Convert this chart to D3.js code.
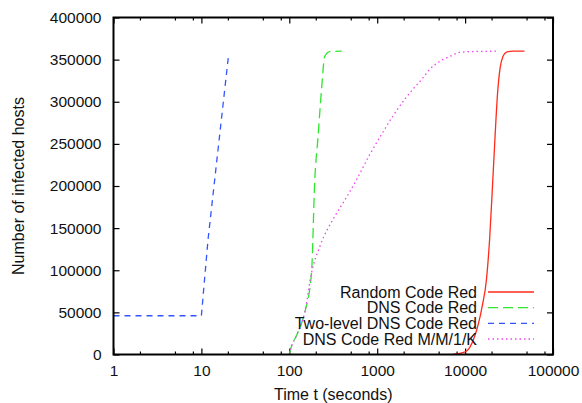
<!DOCTYPE html>
<html>
<head>
<meta charset="utf-8">
<script src="https://cdn.jsdelivr.net/npm/d3@7"></script>
<style>
  body { margin: 0; background: #fff; }
  svg text { font-family: "Liberation Sans", Arial, Helvetica, sans-serif; fill: #111; }
</style>
</head>
<body>
<svg id="chart" width="582" height="403"></svg>
<script>
// values (time in seconds, infected hosts)
const xMajorTicks = [1, 10, 100, 1000, 10000, 100000];
const yTicks = [0, 50000, 100000, 150000, 200000, 250000, 300000, 350000, 400000];

const randomTimes = [7200, 10000, 12800, 15500, 17500, 19000, 20500, 22000, 23400, 25000, 27000, 29600, 35000, 47400];
const randomHosts = [0, 3000, 21000, 55000, 89000, 136500, 200000, 262000, 310000, 340000, 354000, 359000, 360000, 360000];

const dnsTimes = [100, 101, 125, 150, 179, 195, 211, 234, 253, 288, 395];
const dnsHosts = [0, 2000, 26000, 50000, 97000, 208000, 255000, 318000, 354000, 359600, 360000];

const twoLevelTimes = [1, 10, 11.9, 20.3];
const twoLevelHosts = [46000, 46000, 136500, 354000];

const mm1kTimes = [100, 101, 125, 150, 179, 222, 329, 450, 600, 800, 1117, 1500, 2050, 2530, 3200, 3950, 5130, 6670, 8670, 12200, 23400];
const mm1kHosts = [0, 2000, 26000, 50000, 97000, 128000, 164000, 187000, 210000, 235000, 261000, 282500, 302700, 314500, 326400, 338300, 347800, 353700, 358500, 359600, 360000];

const seriesNames = ['Random Code Red', 'DNS Code Red', 'Two-level DNS Code Red', 'DNS Code Red M/M/1/K'];
const seriesColors = ['#ff2a1a', '#2ee62e', '#3355ff', '#ee44ee'];
const seriesDashes = [null, '10,5', '6,5', '1.5,3'];
const seriesCurves = [d3.curveMonotoneX, d3.curveMonotoneX, d3.curveLinear, d3.curveMonotoneX];

const svg = d3.select('#chart');
const plotLeft = 113.5, plotRight = 553, plotTop = 17.5, plotBottom = 354.5;

const x = d3.scaleLog().domain([1, 100000]).range([plotLeft, plotRight]);
const y = d3.scaleLinear().domain([0, 400000]).range([plotBottom, plotTop]);

// minor ticks on the log axis
const xMinorTicks = [];
xMajorTicks.slice(0, -1).forEach(function(d) {
  [2, 5, 8].forEach(function(m) { xMinorTicks.push(d * m); });
});

function styleAxis(g) {
  g.select('.domain').remove();
  g.selectAll('.tick line').attr('stroke', '#000').attr('stroke-width', 1.2);
  g.selectAll('.tick text')
    .style('font-family', '"Liberation Sans", Arial, sans-serif')
    .style('font-size', '15.5px')
    .attr('fill', '#111')
    ;
}

svg.append('g')
  .attr('transform', `translate(0,${plotBottom})`)
  .call(d3.axisBottom(x).tickValues(xMajorTicks).tickFormat(d3.format('d')).tickSize(-6).tickPadding(10))
  .call(styleAxis)
  ;

svg.append('g')
  .attr('transform', `translate(0,${plotBottom})`)
  .call(d3.axisBottom(x).tickValues(xMinorTicks).tickFormat('').tickSize(-3))
  .call(styleAxis)
  ;

svg.append('g')
  .attr('transform', `translate(0,${plotTop})`)
  .call(d3.axisTop(x).tickValues(xMajorTicks).tickFormat('').tickSize(-6))
  .call(styleAxis)
  ;

svg.append('g')
  .attr('transform', `translate(0,${plotTop})`)
  .call(d3.axisTop(x).tickValues(xMinorTicks).tickFormat('').tickSize(-3))
  .call(styleAxis)
  ;

svg.append('g')
  .attr('transform', `translate(${plotLeft},0)`)
  .call(d3.axisLeft(y).tickValues(yTicks).tickFormat(d3.format('d')).tickSize(-6).tickPadding(12))
  .call(styleAxis)
  ;

svg.append('g')
  .attr('transform', `translate(${plotRight},0)`)
  .call(d3.axisRight(y).tickValues(yTicks).tickFormat('').tickSize(-6))
  .call(styleAxis)
  ;

// data lines
const series = [
  d3.zip(randomTimes, randomHosts),
  d3.zip(dnsTimes, dnsHosts),
  d3.zip(twoLevelTimes, twoLevelHosts),
  d3.zip(mm1kTimes, mm1kHosts)
];

series.forEach(function(points, i) {
  const line = d3.line()
    .x(function(d) { return x(d[0]); })
    .y(function(d) { return y(d[1]); })
    .curve(seriesCurves[i])
    ;

  svg.append('path')
    .datum(points)
    .attr('d', line)
    .attr('fill', 'none')
    .attr('stroke', seriesColors[i])
    .attr('stroke-width', 1.3)
    .attr('stroke-dasharray', seriesDashes[i])
    ;
});

// legend
const legendRows = [292, 307.7, 323.4, 339];
seriesNames.forEach(function(name, i) {
  svg.append('text')
    .attr('x', 477)
    .attr('y', legendRows[i])
    .attr('dy', '0.35em')
    .attr('text-anchor', 'end')
    .style('font-size', '16px')
    .text(name)
    ;
  svg.append('line')
    .attr('x1', 488)
    .attr('x2', 534)
    .attr('y1', legendRows[i])
    .attr('y2', legendRows[i])
    .attr('stroke', seriesColors[i])
    .attr('stroke-width', 1.3)
    .attr('stroke-dasharray', seriesDashes[i])
    ;
});

// frame
svg.append('rect')
  .attr('x', plotLeft)
  .attr('y', plotTop)
  .attr('width', plotRight - plotLeft)
  .attr('height', plotBottom - plotTop)
  .attr('fill', 'none')
  .attr('stroke', '#000')
  .attr('stroke-width', 2)
  ;

// axis titles
svg.append('text')
  .attr('x', (plotLeft + plotRight) / 2)
  .attr('y', 400)
  .attr('text-anchor', 'middle')
  .style('font-size', '16px')
  .text('Time t (seconds)')
  ;

svg.append('text')
  .attr('transform', `translate(24,${(plotTop + plotBottom) / 2}) rotate(-90)`)
  .attr('text-anchor', 'middle')
  .style('font-size', '16px')
  .text('Number of infected hosts')
  ;
</script>
</body>
</html>
